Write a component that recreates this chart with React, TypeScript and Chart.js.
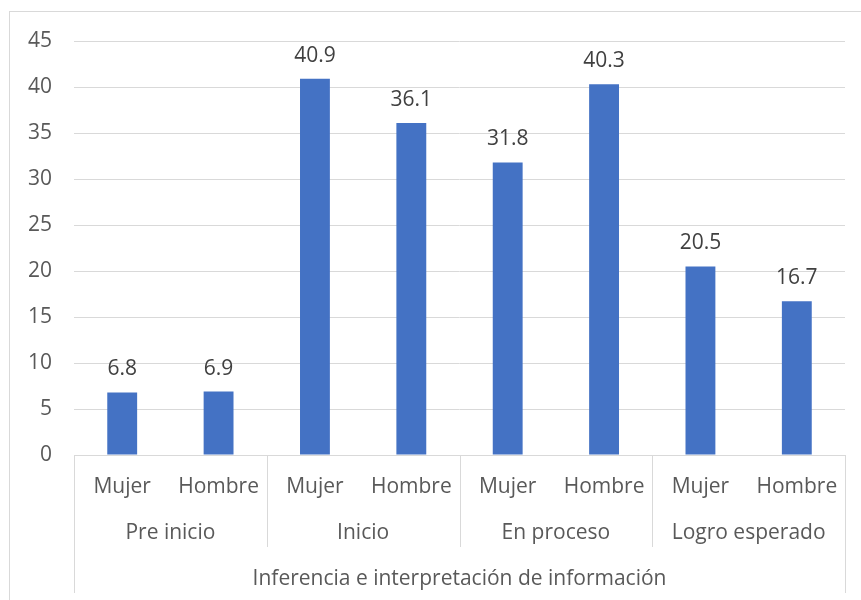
import React, { useEffect, useRef } from "react";
import { Chart, registerables } from "chart.js";

Chart.register(...registerables);

const genders = ["Mujer", "Hombre", "Mujer", "Hombre", "Mujer", "Hombre", "Mujer", "Hombre"];
const levels = ["Pre inicio", "Inicio", "En proceso", "Logro esperado"];
const dimension = "Inferencia e interpretación de información";
const values = [6.8, 6.9, 40.9, 36.1, 31.8, 40.3, 20.5, 16.7];

const FONT = "'Open Sans', sans-serif";
const FS = 21;

const multiLevelPlugin = {
  id: "multiLevel",
  afterDraw(chart: any) {
    const ctx = chart.ctx;
    const xs = chart.scales.x;
    const area = chart.chartArea;
    const px = (i: number) => xs.getPixelForValue(i);
    const y0 = area.bottom;
    ctx.save();
    // data labels
    const meta = chart.getDatasetMeta(0);
    ctx.font = `${FS}px ${FONT}`;
    ctx.fillStyle = "#404040";
    ctx.textAlign = "center";
    ctx.textBaseline = "alphabetic";
    meta.data.forEach((bar: any, i: number) => {
      ctx.fillText(values[i].toFixed(1), bar.x, bar.y - 17);
    });
    // separator lines
    ctx.strokeStyle = "#d9d9d9";
    ctx.lineWidth = 1;
    const line = (x: number, yb: number) => {
      ctx.beginPath();
      ctx.moveTo(Math.round(x) + 0.5, y0);
      ctx.lineTo(Math.round(x) + 0.5, yb);
      ctx.stroke();
    };
    line(area.left, y0 + 138);
    line(area.right, y0 + 138);
    for (let g = 0; g < levels.length - 1; g++) {
      line((px(2 * g + 1) + px(2 * g + 2)) / 2, y0 + 92);
    }
    // labels
    ctx.fillStyle = "#595959";
    ctx.textBaseline = "middle";
    genders.forEach((t, i) => ctx.fillText(t, px(i), y0 + 32));
    levels.forEach((t, g) => ctx.fillText(t, (px(2 * g) + px(2 * g + 1)) / 2, y0 + 78));
    ctx.fillText(dimension, (area.left + area.right) / 2, y0 + 124);
    ctx.restore();
  },
};

export default function App() {
  const ref = useRef<HTMLCanvasElement>(null);
  useEffect(() => {
    if (!ref.current) return;
    const chart = new Chart(ref.current, {
      type: "bar",
      data: {
        labels: genders,
        datasets: [
          {
            data: values,
            backgroundColor: "#4472C4",
            barPercentage: 0.31,
            categoryPercentage: 1,
          },
        ],
      },
      options: {
        animation: false,
        responsive: false,
        maintainAspectRatio: false,
        layout: { padding: { left: 6, right: 16, top: 41, bottom: 145 } },
        plugins: { legend: { display: false }, tooltip: { enabled: false } },
        scales: {
          x: {
            ticks: { display: false },
            grid: { display: false, drawTicks: false },
            border: { display: true, color: "#d9d9d9", width: 1 },
          },
          y: {
            min: 0,
            max: 45,
            ticks: {
              stepSize: 5,
              padding: 22,
              color: "#595959",
              font: { family: FONT, size: FS },
            },
            grid: { color: "#d9d9d9", drawTicks: false },
            border: { display: false },
          },
        },
      },
      plugins: [multiLevelPlugin],
    });
    return () => chart.destroy();
  }, []);
  return (
    <div style={{ position: "fixed", left: 0, top: 0, width: 861, height: 600, background: "#fff" }}>
      <div
        style={{
          position: "absolute",
          left: 9,
          top: 11,
          width: 870,
          height: 620,
          border: "1px solid #d9d9d9",
          boxSizing: "border-box",
        }}
      />
      <canvas ref={ref} width={861} height={600} style={{ position: "absolute", left: 0, top: 0 }} />
    </div>
  );
}
